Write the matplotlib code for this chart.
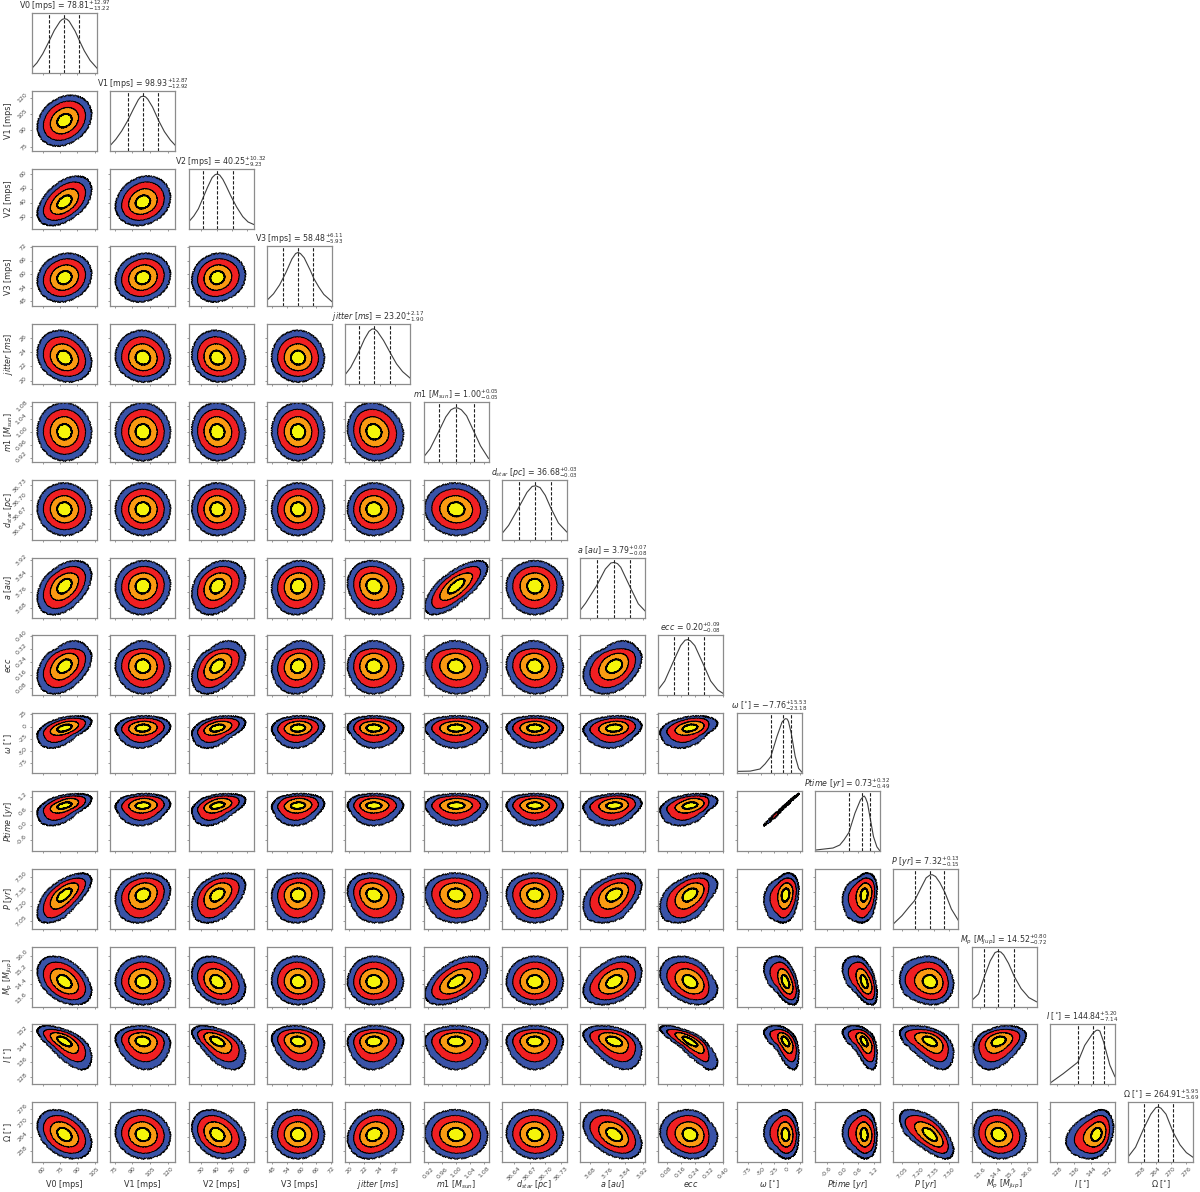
#!/usr/bin/python3

import matplotlib
matplotlib.use('Agg')
import matplotlib.pyplot as plt
import numpy as np

labels = ['V0 [mps]', 'V1 [mps]', 'V2 [mps]', 'V3 [mps]', r'$jitter\ [ms]$', r'$m1\ [M_{sun}]$',
          r'$d_{star}\ [pc]$', r'$a\ [au]$', r'$ecc$', r'$\omega\ [^{\circ}]$', r'$Ptime\ [yr]$',
          r'$P\ [yr]$', r'$M_{p}\ [M_{Jup}]$', r'$I\ [^{\circ}]$', r'$\Omega\ [^{\circ}]$']

medians = ['78.81', '98.93', '40.25', '58.48', '23.20', '1.00', '36.68', '3.79', '0.20', '-7.76', '0.73',
           '7.32', '14.52', '144.84', '264.91']
err_up = ['12.97', '12.87', '10.32', '6.11', '2.17', '0.05', '0.03', '0.07', '0.09', '15.53', '0.32',
          '0.13', '0.80', '5.20', '5.95']
err_down = ['13.22', '12.92', '9.23', '5.93', '1.90', '0.05', '0.03', '0.08', '0.08', '23.18', '0.49',
            '0.15', '0.72', '7.14', '5.69']

limits = [(50.7, 107), (71.4, 126.2), (21.6, 64.1), (45.8, 72.3), (19.48, 28.0), (0.906, 1.093),
          (36.617, 36.741), (3.635, 3.931), (0.034, 0.402), (-95.7, 27.3), (-1.06, 1.43),
          (6.967, 7.586), (13.14, 16.50), (124.4, 155.4), (253.1, 278.7)]

ticks = [[60, 75, 90, 105], [75, 90, 105, 120], [30, 40, 50, 60], [48, 54, 60, 66, 72], [20, 22, 24, 26],
         [0.92, 0.96, 1.00, 1.04, 1.08], [36.64, 36.67, 36.70, 36.73], [3.68, 3.76, 3.84, 3.92],
         [0.08, 0.16, 0.24, 0.32, 0.40], [-75, -50, -25, 0, 25], [-0.6, 0.0, 0.6, 1.2],
         [7.05, 7.20, 7.35, 7.50], [13.6, 14.4, 15.2, 16.0], [128, 136, 144, 152], [258, 264, 270, 276]]

tick_formats = ['%d', '%d', '%d', '%d', '%d', '%.2f', '%.2f', '%.2f', '%.2f', '%d', '%.1f', '%.2f', '%.1f',
                '%d', '%d']

# 1d curves (value, height as fraction of the panel)
x_V0 = [50.7, 55, 60, 65, 70, 75, 77, 79, 81, 83, 88, 92, 96, 101, 107]
h_V0 = [0.08, 0.17, 0.32, 0.51, 0.71, 0.86, 0.895, 0.905, 0.895, 0.86, 0.70, 0.53, 0.37, 0.21, 0.08]
x_V1 = [71.4, 76, 81, 86, 91, 95, 97, 99, 101, 103, 107, 112, 117, 122, 126.2]
h_V1 = [0.09, 0.19, 0.33, 0.50, 0.70, 0.85, 0.90, 0.91, 0.90, 0.86, 0.73, 0.51, 0.32, 0.18, 0.09]
x_V2 = [21.6, 25, 28, 31, 34, 37, 39, 40.5, 42, 44, 46, 49.5, 53, 57, 60.5, 64.1]
h_V2 = [0.11, 0.21, 0.33, 0.51, 0.69, 0.85, 0.90, 0.91, 0.89, 0.82, 0.72, 0.53, 0.36, 0.20, 0.11, 0.07]
x_V3 = [45.8, 48.5, 51, 53.5, 56, 57.5, 58.5, 59.5, 61, 63.5, 65, 67, 69, 72.3]
h_V3 = [0.10, 0.21, 0.36, 0.56, 0.79, 0.88, 0.90, 0.88, 0.81, 0.60, 0.46, 0.32, 0.20, 0.08]
x_jit = [19.48, 20.2, 21.3, 22, 22.6, 23.0, 23.3, 23.7, 24.5, 25.4, 26.2, 27, 28]
h_jit = [0.16, 0.28, 0.55, 0.75, 0.88, 0.92, 0.92, 0.88, 0.73, 0.52, 0.34, 0.21, 0.10]
x_m1 = [0.906, 0.925, 0.95, 0.97, 0.985, 0.995, 1.005, 1.015, 1.03, 1.05, 1.07, 1.093]
h_m1 = [0.08, 0.22, 0.51, 0.75, 0.87, 0.90, 0.90, 0.87, 0.77, 0.52, 0.27, 0.06]
x_d = [36.617, 36.63, 36.65, 36.665, 36.675, 36.682, 36.69, 36.70, 36.71, 36.725, 36.741]
h_d = [0.10, 0.24, 0.55, 0.79, 0.89, 0.90, 0.87, 0.74, 0.54, 0.28, 0.13]
x_a = [3.635, 3.66, 3.71, 3.75, 3.775, 3.79, 3.805, 3.82, 3.86, 3.90, 3.931]
h_a = [0.12, 0.24, 0.53, 0.81, 0.91, 0.92, 0.90, 0.84, 0.53, 0.23, 0.11]
x_ecc = [0.034, 0.07, 0.115, 0.16, 0.185, 0.2, 0.215, 0.24, 0.285, 0.33, 0.37, 0.402]
h_ecc = [0.10, 0.24, 0.54, 0.83, 0.92, 0.93, 0.91, 0.83, 0.54, 0.24, 0.09, 0.03]
x_w = [-95.7, -70, -51.7, -42, -31, -19.6, -10, -5, -2.7, 0, 2.3, 7.4, 15, 21.5, 27.3]
h_w = [0.03, 0.035, 0.07, 0.155, 0.28, 0.61, 0.85, 0.90, 0.91, 0.90, 0.86, 0.67, 0.28, 0.08, 0.02]
x_pt = [-1.06, -0.37, -0.11, 0.05, 0.24, 0.47, 0.68, 0.78, 0.83, 0.88, 0.95, 1.04, 1.18, 1.31, 1.43]
h_pt = [0.015, 0.05, 0.10, 0.185, 0.31, 0.63, 0.85, 0.905, 0.915, 0.88, 0.80, 0.58, 0.24, 0.07, 0.0]
x_P = [6.967, 7.05, 7.12, 7.17, 7.23, 7.28, 7.32, 7.34, 7.37, 7.41, 7.46, 7.52, 7.586]
h_P = [0.08, 0.22, 0.37, 0.47, 0.68, 0.85, 0.90, 0.90, 0.87, 0.77, 0.60, 0.33, 0.14]
x_Mp = [13.14, 13.5, 13.8, 14.1, 14.35, 14.5, 14.65, 14.8, 15.05, 15.35, 15.7, 16.1, 16.5]
h_Mp = [0.10, 0.21, 0.50, 0.76, 0.90, 0.92, 0.91, 0.86, 0.72, 0.50, 0.30, 0.15, 0.08]
x_I = [124.4, 130.8, 137.7, 141, 144.84, 146.5, 147.3, 148.2, 150, 153, 155.4]
h_I = [0.02, 0.18, 0.37, 0.65, 0.85, 0.90, 0.905, 0.89, 0.71, 0.32, 0.13]
x_O = [253.1, 256, 259.2, 262, 264, 265, 266, 268, 270.8, 273.5, 276, 278.7]
h_O = [0.09, 0.25, 0.56, 0.80, 0.91, 0.92, 0.90, 0.80, 0.50, 0.29, 0.16, 0.08]

curves_x = [x_V0, x_V1, x_V2, x_V3, x_jit, x_m1, x_d, x_a, x_ecc, x_w, x_pt, x_P, x_Mp, x_I, x_O]
curves_h = [h_V0, h_V1, h_V2, h_V3, h_jit, h_m1, h_d, h_a, h_ecc, h_w, h_pt, h_P, h_Mp, h_I, h_O]

# how far each contour reaches along one parameter
reach_steps = [-1.79, -1.39, -0.93, -0.46, 0, 0.46, 0.93, 1.39, 1.79]
reach_V0 = [55.4, 60.6, 66.6, 72.8, 78.8, 84.8, 91, 97, 102.2]
reach_V1 = [75.8, 81, 86.9, 93, 98.9, 104.8, 110.9, 116.8, 122]
reach_V2 = [23.8, 27.5, 31.7, 36, 40.25, 44.9, 49.8, 54.6, 58.7]
reach_V3 = [47.8, 50.2, 52.9, 55.7, 58.5, 61.3, 64.1, 66.8, 69.2]
reach_jit = [19.8, 20.6, 21.4, 22.3, 23.2, 24.2, 25.2, 26.2, 27.1]
reach_m1 = [0.91, 0.93, 0.953, 0.977, 1.0, 1.023, 1.047, 1.07, 1.09]
reach_d = [36.626, 36.638, 36.652, 36.666, 36.68, 36.694, 36.708, 36.722, 36.734]
reach_a = [3.65, 3.68, 3.72, 3.755, 3.79, 3.825, 3.855, 3.887, 3.915]
reach_ecc = [0.044, 0.082, 0.129, 0.173, 0.21, 0.253, 0.292, 0.32, 0.368]
reach_w = [-44, -32.6, -18, -10.3, -3.3, 3.7, 10.7, 17, 21.5]
reach_pt = [-0.002, 0.217, 0.514, 0.695, 0.824, 0.953, 1.12, 1.224, 1.314]
reach_P = [7.03, 7.08, 7.17, 7.25, 7.32, 7.38, 7.44, 7.49, 7.54]
reach_Mp = [13.25, 13.52, 13.85, 14.19, 14.52, 14.89, 15.26, 15.63, 15.95]
reach_I = [132.1, 136.1, 140.4, 144.2, 146.6, 149, 151.1, 152.8, 154.7]
reach_O = [254.6, 256.9, 259.6, 262.2, 264.9, 267.6, 270.3, 273, 275.4]

reaches = [reach_V0, reach_V1, reach_V2, reach_V3, reach_jit, reach_m1, reach_d, reach_a, reach_ecc, reach_w,
           reach_pt, reach_P, reach_Mp, reach_I, reach_O]

# tilt of each lower panel, one list per row
tilt_V1 = [0.25]
tilt_V2 = [0.48, 0.18]
tilt_V3 = [0.15, 0.12, 0.10]
tilt_jit = [-0.18, -0.05, -0.10, -0.02]
tilt_m1 = [-0.02, -0.01, -0.05, -0.02, -0.10]
tilt_d = [-0.02, 0.0, -0.02, 0.0, 0.0, -0.05]
tilt_a = [0.42, 0.05, 0.28, 0.08, -0.10, 0.72, 0.0]
tilt_ecc = [0.38, -0.02, 0.42, 0.10, 0.0, -0.05, -0.05, 0.33]
tilt_w = [0.50, 0.10, 0.40, 0.10, -0.02, 0.02, 0.0, 0.15, 0.35]
tilt_pt = [0.50, 0.10, 0.40, 0.12, 0.0, 0.02, 0.0, 0.15, 0.35, 0.995]
tilt_P = [0.65, 0.18, 0.40, 0.05, -0.14, -0.05, -0.02, 0.40, 0.45, 0.20, 0.20]
tilt_Mp = [-0.40, -0.02, -0.28, -0.05, 0.0, 0.52, 0.0, 0.38, -0.32, -0.50, -0.50, -0.10]
tilt_I = [-0.65, -0.12, -0.55, -0.15, 0.05, 0.0, 0.0, -0.40, -0.80, -0.55, -0.55, -0.50, 0.35]
tilt_O = [-0.35, -0.08, -0.28, -0.02, 0.18, -0.05, -0.05, -0.40, -0.10, -0.08, -0.08, -0.65, -0.10, 0.28]

tilts = [[], tilt_V1, tilt_V2, tilt_V3, tilt_jit, tilt_m1, tilt_d, tilt_a, tilt_ecc, tilt_w, tilt_pt, tilt_P,
         tilt_Mp, tilt_I, tilt_O]

contour_sizes = [1.79, 1.39, 0.93, 0.48]
contour_colors = ['#3a53a8', '#f01f22', '#fa9a12', '#f5f50a']
contour_rough = [1.0, 0.4, 0.5, 0.9]

n = len(labels)
plt.rcParams['mathtext.default'] = 'it'
fig = plt.figure(figsize=(12, 11.92), dpi=100)


def panel(row, col):
    ax = fig.add_axes([(32 + 78.3 * col) / 1200, 1 - (73 + 77.8 * row) / 1192, 65 / 1200, 60 / 1192])
    for spine in ax.spines.values():
        spine.set_color('#8c8c8c')
        spine.set_linewidth(0.9)
    ax.tick_params(length=1.5, width=0.5, color='#707070', labelsize=4.5, labelcolor='#505050', pad=1.2)
    ax.set_xlim(limits[col])
    ax.set_xticks(ticks[col])
    if row == n - 1:
        ax.set_xticklabels([tick_formats[col] % t for t in ticks[col]], rotation=45)
        ax.set_xlabel(labels[col], fontsize=5.8, va='center', color='#303030')
        ax.xaxis.set_label_coords(0.5, -0.37)
    else:
        ax.set_xticklabels([])
    return ax


def draw_contours(ax, row, col):
    theta = np.linspace(0, 2 * np.pi, 300)
    rho = tilts[row][col]
    for size, color, rough in zip(contour_sizes, contour_colors, contour_rough):
        zx = size * np.cos(theta)
        zy = rho * zx + np.sqrt(1 - rho ** 2) * size * np.sin(theta)
        x = np.interp(zx, reach_steps, reaches[col])
        y = np.interp(zy, reach_steps, reaches[row])
        patches = ax.fill(x, y, facecolor=color, edgecolor='black', linewidth=0.6)
        patches[0].set_sketch_params(scale=rough, length=2.5, randomness=2)


for row in range(n):
    for col in range(row + 1):
        ax = panel(row, col)
        if col == row:
            ax.plot(curves_x[col], curves_h[col], color='#404040', linewidth=0.8)
            med = float(medians[col])
            for v in [med - float(err_down[col]), med, med + float(err_up[col])]:
                ax.axvline(v, color='#202020', linestyle='--', linewidth=0.8, dashes=(3, 1.5))
            ax.set_ylim(0, 1)
            ax.set_yticks([])
            ax.set_title(labels[col] + ' = $' + medians[col] + '^{+' + err_up[col] + '}_{-' +
                         err_down[col] + '}$', fontsize=5.7, pad=2, color='#303030')
        else:
            draw_contours(ax, row, col)
            ax.set_ylim(limits[row])
            ax.set_yticks(ticks[row])
            if col == 0:
                ax.set_yticklabels([tick_formats[row] % t for t in ticks[row]], rotation=45, va='center')
                ax.set_ylabel(labels[row], fontsize=5.8, va='center', color='#303030')
                ax.yaxis.set_label_coords(-0.36, 0.5)
            else:
                ax.set_yticklabels([])

fig.savefig('out.png', dpi=100)
